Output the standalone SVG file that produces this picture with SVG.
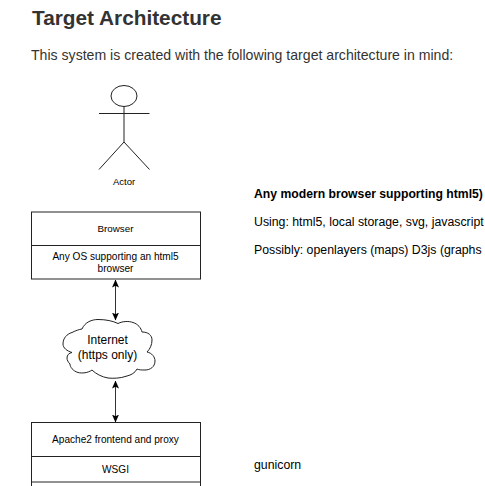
<svg xmlns="http://www.w3.org/2000/svg" width="485" height="486" viewBox="0 0 485 486">
<style>
text{font-family:"Liberation Sans",Arial,sans-serif}
.doc{fill:#333}
.s{fill:none;stroke:#222;stroke-width:1}
.box{fill:#fff;stroke:#222;stroke-width:1}
.sm{font-size:10.1px;fill:#000;text-anchor:middle}
.note{font-size:12.3px;fill:#000}
.conn{fill:none;stroke:#333;stroke-width:1;marker-start:url(#a);marker-end:url(#a)}
</style>
<defs>
<marker id="a" viewBox="0 0 8 8" refX="7.500" refY="4" markerWidth="8" markerHeight="8" markerUnits="userSpaceOnUse" orient="auto-start-reverse"><path d="M0,0.500 L8,4 L0,7.500 L1.800,4Z" fill="#000"/></marker>
</defs>
<rect width="485" height="486" fill="#fff"/>
<text class="doc" x="32" y="25" font-size="20.800" font-weight="bold">Target Architecture</text>
<text class="doc" x="31" y="60" font-size="14.100">This system is created with the following target architecture in mind:</text>
<g id="actor">
<ellipse class="s" cx="124" cy="96" rx="13" ry="10.500"/>
<path class="s" d="M124,106.500V142M99,113.500H149.500M124,142L99,169.500M124,142L149.500,169.500"/>
<text class="sm" x="124" y="185" style="font-size:9.500px">Actor</text>
</g>
<g id="browser">
<rect class="box" x="31.500" y="212" width="169" height="33.500"/>
<text class="sm" x="115.500" y="232" style="font-size:9.800px">Browser</text>
</g>
<g id="browser-os">
<rect class="box" x="31.500" y="245.500" width="169" height="33.500"/>
<text class="sm" x="115.500" y="260">Any OS supporting an html5</text>
<text class="sm" x="115.500" y="272">browser</text>
</g>
<g id="internet">
<path class="box" d="M82,329 C85,322 92,319.500 98,319.500 C106,319.500 113,321 118,323.500 C123,321 129,321 133,322.500 C138,324 141,328 142,332 C148,332 152,335 152,340 C152,345 150,349 147,352 C152,353 155,357 155,361 C155,367 150,370 145,370 C142,370 139,370 137,369 C135,373 131,375 127,376 C120,378.500 113,378.500 108,378 C102,377 96,374 92,370 C88,373 82,373.500 78,372.500 C73,371 70,367 70,364 C68,362 67,360 67,358 C67,355 69,353 72,352.500 C67,351 63,348 63,344 C63,338 67,334 72,332.500 C76,330.500 79,329.500 82,329Z"/>
<text x="107.500" y="343.500" font-size="12" text-anchor="middle" fill="#000">Internet</text>
<text x="107.500" y="358.500" font-size="12" text-anchor="middle" fill="#000">(https only)</text>
</g>
<g id="apache">
<rect class="box" x="31.500" y="422.500" width="169" height="34"/>
<text class="sm" x="115.500" y="443">Apache2 frontend and proxy</text>
</g>
<g id="wsgi">
<rect class="box" x="31.500" y="456.500" width="169" height="25.500"/>
<text class="sm" x="115.500" y="473">WSGI</text>
</g>
<g id="lower">
<path class="s" d="M31.500,482V486M200.500,482V486"/>
</g>
<g id="notes">
<text class="note" x="254" y="198" font-weight="bold" style="font-size:12.200px">Any modern browser supporting html5)</text>
<text class="note" x="254" y="226">Using: html5, local storage, svg, javascript</text>
<text class="note" x="254" y="254">Possibly: openlayers (maps) D3js (graphs</text>
<text class="note" x="254" y="469">gunicorn</text>
</g>
<g id="connectors">
<path class="conn" d="M115.500,280V320"/>
<path class="conn" d="M115.500,381V422"/>
</g>
</svg>
